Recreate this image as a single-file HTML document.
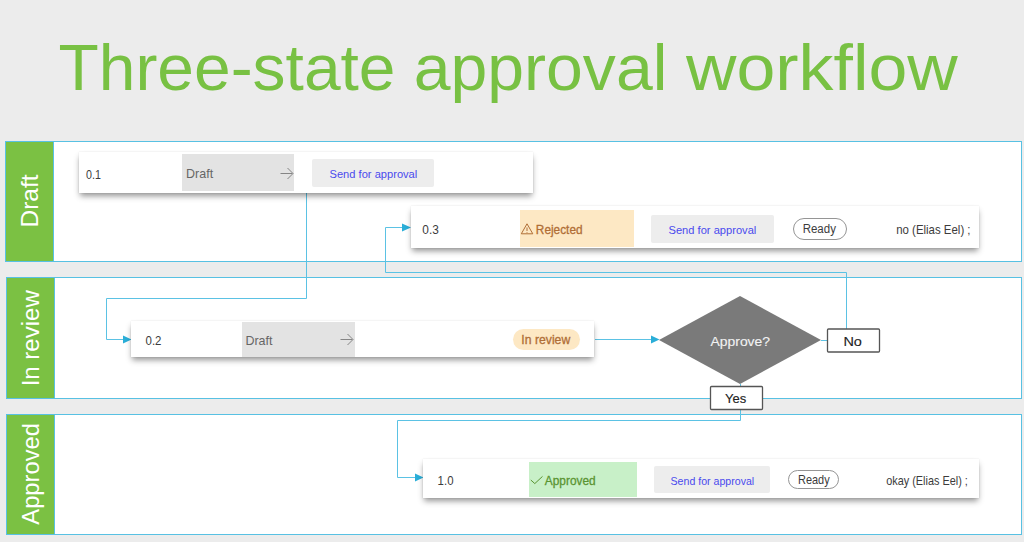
<!DOCTYPE html>
<html><head><meta charset="utf-8">
<style>
html,body{margin:0;padding:0;}
body{width:1024px;height:542px;overflow:hidden;background:#ececec;position:relative;font-family:"Liberation Sans",sans-serif;}
.a{position:absolute;}
.lane{position:absolute;border:1px solid #58c1e3;background:#fff;box-sizing:border-box;}
.band{position:absolute;left:0;top:0;bottom:0;width:47px;background:#7bc143;border-right:1px solid #58c1e3;}
.card{position:absolute;background:#fff;box-shadow:0 4px 6px -1px rgba(0,0,0,0.42),0 0 1.5px rgba(0,0,0,0.1);}
.box{position:absolute;}
.gray{background:#e3e3e3;}
.btn{background:#ededed;border-radius:2px;}
.pill{position:absolute;border:1px solid #959595;border-radius:12px;box-sizing:border-box;}
svg text{font-family:"Liberation Sans",sans-serif;}
</style></head><body>
<div class="lane" style="left:5px;top:141px;width:1017px;height:121px;"><div class="band"></div></div>
<div class="lane" style="left:6px;top:277px;width:1016px;height:122px;"><div class="band"></div></div>
<div class="lane" style="left:6px;top:414px;width:1016px;height:121px;"><div class="band"></div></div>

<svg class="a" style="left:0;top:0" width="1024" height="542">
 <g stroke="#5bc2e4" stroke-width="1" fill="none">
  <polyline points="306.5,193 306.5,298.5 106.5,298.5 106.5,339.5 124,339.5"/>
  <polyline points="595,339.5 652,339.5"/>
  <polyline points="821,340.5 827,340.5"/>
  <polyline points="846.5,329 846.5,272.5 385.5,272.5 385.5,227.5 403,227.5"/>
  <polyline points="740.5,384 740.5,386"/>
  <polyline points="740.5,409 740.5,420.5 397.5,420.5 397.5,477.5 416,477.5"/>
 </g>
 <g fill="#2aaed8">
  <polygon points="123,335.5 131.5,339.5 123,343.5"/>
  <polygon points="651,335.5 659.5,339.5 651,343.5"/>
  <polygon points="402,223.5 411,227.5 402,231.5"/>
  <polygon points="415,473.5 423.5,477.5 415,481.5"/>
 </g>
 <polygon points="659,340 740,296 821,340 740,384" fill="#7a7a7a"/>
 <rect x="827.5" y="329" width="52" height="23" fill="#fff" stroke="#555" stroke-width="1.3" rx="1"/>
 <rect x="710.5" y="386.5" width="52" height="23" fill="#fff" stroke="#555" stroke-width="1.3" rx="1"/>
</svg>

<!-- card 1 -->
<div class="card" style="left:79px;top:152px;width:454px;height:41px;"></div>
<div class="box gray" style="left:182px;top:154px;width:112px;height:37px;"></div>
<div class="box btn" style="left:312px;top:159px;width:122px;height:28px;"></div>
<!-- card 3 -->
<div class="card" style="left:411px;top:206px;width:568px;height:42px;"></div>
<div class="box" style="left:520px;top:210px;width:114px;height:37px;background:#fde8c4;"></div>
<div class="box btn" style="left:651px;top:215px;width:123px;height:28px;"></div>
<div class="pill" style="left:793px;top:218px;width:54px;height:22px;"></div>
<!-- card 2 -->
<div class="card" style="left:131px;top:321px;width:463px;height:36px;"></div>
<div class="box gray" style="left:242px;top:322px;width:112.5px;height:35px;"></div>
<div class="box" style="left:512.5px;top:328.5px;width:67px;height:21.5px;border-radius:11px;background:#fde8c4;"></div>
<!-- card 4 -->
<div class="card" style="left:423px;top:459px;width:556px;height:39px;"></div>
<div class="box" style="left:529px;top:462px;width:108px;height:35px;background:#c8f0c8;"></div>
<div class="box btn" style="left:654px;top:466px;width:116px;height:27px;"></div>
<div class="pill" style="left:788px;top:470px;width:51px;height:19px;"></div>

<svg class="a" style="left:0;top:0" width="1024" height="542">
 <g stroke="#858585" stroke-width="1" fill="none">
  <path d="M280.5,173.5 H292.5 M287.5,168 L293,173.5 L287.5,179"/>
  <path d="M340.5,339.5 H352.5 M347.5,334 L353,339.5 L347.5,345"/>
 </g>
 <path d="M527,223.8 L521.3,233.8 H532.8 Z M527,227.5 V231 M527,232.3 V233" stroke="#b06e36" stroke-width="1" fill="none"/>
 <path d="M530.8,480 L534.8,483.6 L542.5,476.4" stroke="#5a9432" stroke-width="1" fill="none"/>
 <text transform="translate(58.48,89.70) scale(1.0143,1.0000)" font-size="65" fill="#78c143" >Three-state</text>
<text transform="translate(413.80,89.70) scale(1.0171,1.0000)" font-size="65" fill="#78c143" >approval</text>
<text transform="translate(686.00,89.70) scale(1.0751,1.0000)" font-size="65" fill="#78c143" >workflow</text>
<text transform="translate(38.40,227.42) rotate(-90) scale(1.0388,1)" font-size="23.5" fill="#fff">Draft</text>
<text transform="translate(39.30,386.35) rotate(-90) scale(1.0228,1)" font-size="23.5" fill="#fff">In review</text>
<text transform="translate(39.30,524.70) rotate(-90) scale(1.0111,1)" font-size="23.5" fill="#fff">Approved</text>
<text transform="translate(86.08,178.50) scale(0.8358,1.0000)" font-size="12.8" fill="#3c3c3c" >0.1</text>
<text transform="translate(186.12,178.20) scale(0.9757,1.0000)" font-size="12.8" fill="#666" >Draft</text>
<text transform="translate(329.52,178.10) scale(0.9584,1.0000)" font-size="11.6" fill="#4a4aee" >Send for approval</text>
<text transform="translate(422.34,234.10) scale(0.9254,1.0000)" font-size="12.8" fill="#3c3c3c" >0.3</text>
<text transform="translate(535.87,233.90) scale(0.9251,1.0000)" font-size="12.8" fill="#b06e36" stroke="#b06e36" stroke-width="0.3">Rejected</text>
<text transform="translate(668.52,233.70) scale(0.9596,1.0000)" font-size="11.6" fill="#4a4aee" >Send for approval</text>
<text transform="translate(802.68,233.40) scale(0.9200,1.0000)" font-size="12.5" fill="#3c3c3c" >Ready</text>
<text transform="translate(896.21,234.00) scale(0.9157,1.0000)" font-size="12.5" fill="#3c3c3c" >no (Elias Eel) ;</text>
<text transform="translate(145.55,344.80) scale(0.8955,1.0000)" font-size="12.8" fill="#3c3c3c" >0.2</text>
<text transform="translate(245.42,344.90) scale(0.9757,1.0000)" font-size="12.8" fill="#666" >Draft</text>
<text transform="translate(521.32,343.90) scale(0.9776,1.0000)" font-size="12.5" fill="#b06e36" stroke="#b06e36" stroke-width="0.3">In review</text>
<text transform="translate(710.50,345.90) scale(1.0386,1.0000)" font-size="13.4" fill="#f2f2f2" stroke="#f2f2f2" stroke-width="0.12">Approve?</text>
<text transform="translate(843.42,345.80) scale(1.0794,1.0000)" font-size="13.4" fill="#222" stroke="#222" stroke-width="0.12">No</text>
<text transform="translate(724.96,402.70) scale(0.9741,1.0000)" font-size="13.4" fill="#222" stroke="#222" stroke-width="0.12">Yes</text>
<text transform="translate(437.61,484.70) scale(0.8923,1.0000)" font-size="12.8" fill="#3c3c3c" >1.0</text>
<text transform="translate(544.80,484.60) scale(0.9296,1.0000)" font-size="12.8" fill="#5a9432" stroke="#5a9432" stroke-width="0.3">Approved</text>
<text transform="translate(670.54,484.50) scale(0.9141,1.0000)" font-size="11.6" fill="#4a4aee" >Send for approval</text>
<text transform="translate(798.02,484.10) scale(0.8771,1.0000)" font-size="12.5" fill="#3c3c3c" >Ready</text>
<text transform="translate(886.16,484.70) scale(0.8715,1.0000)" font-size="12.5" fill="#3c3c3c" >okay (Elias Eel) ;</text>
</svg>
</body></html>
